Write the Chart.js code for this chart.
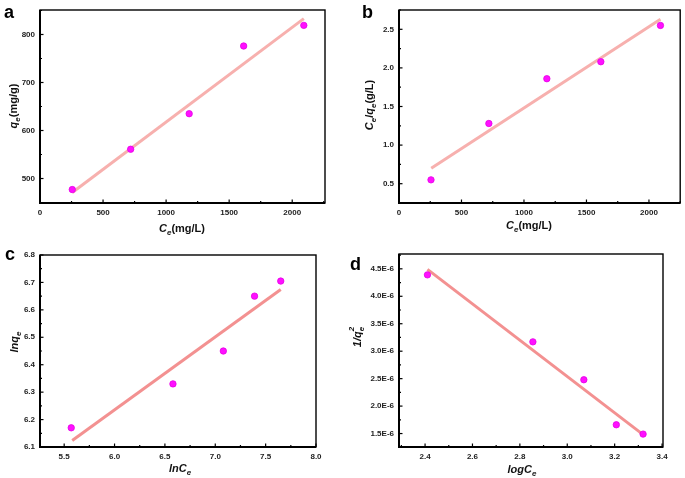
<!DOCTYPE html>
<html lang="en">
<head>
    <meta charset="UTF-8">
    <title>Isotherm Fits</title>
    <script src="https://cdn.jsdelivr.net/npm/chart.js"></script>
    <style>
        body { margin: 0; background: #fff; }
        canvas { position: absolute; }
    </style>
</head>
<body>
    <canvas id="chartA" width="340" height="240" style="left:0;top:0"></canvas>
    <canvas id="chartB" width="345" height="240" style="left:340px;top:0"></canvas>
    <canvas id="chartC" width="340" height="238" style="left:0;top:240px"></canvas>
    <canvas id="chartD" width="345" height="238" style="left:340px;top:240px"></canvas>

    <script>
        // measured points
        const ce = [256, 719, 1183, 1615, 2092];
        const qe = [477, 561, 635, 776, 819];
        const ceOverQe = [0.55, 1.28, 1.86, 2.08, 2.55];
        const lnCe = [5.57, 6.58, 7.08, 7.39, 7.65];
        const lnQe = [6.17, 6.33, 6.45, 6.65, 6.705];
        const logCe = [2.41, 2.855, 3.07, 3.207, 3.32];
        const invQe2 = [4.39e-6, 3.17e-6, 2.48e-6, 1.66e-6, 1.49e-6];

        // fitted line end points
        const fitAx = [256, 2092], fitAy = [471, 833];
        const fitBx = [258, 2092], fitBy = [0.70, 2.63];
        const fitCx = [5.58, 7.65], fitCy = [6.124, 6.674];
        const fitDx = [2.41, 3.32], fitDy = [4.49e-6, 1.48e-6];

        // tick labels
        const ticksAx = [0, 500, 1000, 1500, 2000];
        const ticksAy = [500, 600, 700, 800];
        const ticksBx = [0, 500, 1000, 1500, 2000];
        const ticksBy = [0.5, 1.0, 1.5, 2.0, 2.5];
        const ticksCx = [5.5, 6.0, 6.5, 7.0, 7.5, 8.0];
        const ticksCy = [6.1, 6.2, 6.3, 6.4, 6.5, 6.6, 6.7, 6.8];
        const ticksDx = [2.4, 2.6, 2.8, 3.0, 3.2, 3.4];
        const ticksDy = [1.5e-6, 2.0e-6, 2.5e-6, 3.0e-6, 3.5e-6, 4.0e-6, 4.5e-6];

        const FONT = '"Liberation Sans", Arial, sans-serif';

        function drawRich(ctx, segs, cx, cy, vertical) {
            const size = 11, small = 8;
            const fontOf = (s, sz) => (s.i ? 'italic ' : '') + 'bold ' + sz + 'px ' + FONT;
            let total = 0;
            const parts = segs.map(s => {
                const sz = s.sub || s.sup ? small : size;
                ctx.font = fontOf(s, sz);
                let w = ctx.measureText(s.t).width;
                if (s.over) {
                    ctx.font = fontOf(s, small);
                    w = Math.max(w, ctx.measureText(s.over).width);
                }
                total += w;
                return { s, sz, w };
            });
            ctx.save();
            ctx.translate(cx, cy);
            if (vertical) ctx.rotate(-Math.PI / 2);
            ctx.fillStyle = '#111';
            ctx.textBaseline = 'alphabetic';
            ctx.textAlign = 'left';
            let x = -total / 2;
            const base = 4;
            parts.forEach(p => {
                ctx.font = fontOf(p.s, p.sz);
                const dy = p.s.sub ? 3 : 0;
                ctx.fillText(p.s.t, x, base + dy);
                if (p.s.over) {
                    ctx.font = fontOf(p.s, small);
                    ctx.fillText(p.s.over, x, base - 7);
                }
                x += p.w;
            });
            ctx.restore();
        }

        const framePlugin = {
            id: 'frame',
            afterDraw(chart, args, o) {
                const { ctx, chartArea: a, scales } = chart;
                ctx.save();
                ctx.strokeStyle = '#000';
                ctx.lineWidth = 1.4;
                ctx.strokeRect(a.left, a.top, a.right - a.left, a.bottom - a.top);
                ctx.lineWidth = 2;
                ctx.beginPath();
                ctx.moveTo(a.left, a.top);
                ctx.lineTo(a.left, a.bottom);
                ctx.lineTo(a.right, a.bottom);
                ctx.stroke();

                // inward tick marks: major ones longer, minor ones in between
                ctx.lineWidth = 1.2;
                const sx = scales.x, sy = scales.y;
                const isMajor = (v, list, step) => list.some(t => Math.abs(t - v) < step * 0.01);
                for (let v = Math.ceil(sx.min / o.minorX - 1e-9) * o.minorX; v <= sx.max + o.minorX * 1e-6; v += o.minorX) {
                    const px = sx.getPixelForValue(v);
                    const len = isMajor(v, o.majX, o.minorX) ? 3.5 : 2;
                    ctx.beginPath();
                    ctx.moveTo(px, a.bottom);
                    ctx.lineTo(px, a.bottom - len);
                    ctx.stroke();
                }
                for (let v = Math.ceil(sy.min / o.minorY - 1e-9) * o.minorY; v <= sy.max + o.minorY * 1e-6; v += o.minorY) {
                    const py = sy.getPixelForValue(v);
                    const len = isMajor(v, o.majY, o.minorY) ? 3.5 : 2;
                    ctx.beginPath();
                    ctx.moveTo(a.left, py);
                    ctx.lineTo(a.left + len, py);
                    ctx.stroke();
                }

                // panel letter
                ctx.fillStyle = '#000';
                ctx.font = 'bold 18px ' + FONT;
                ctx.textAlign = 'left';
                ctx.textBaseline = 'alphabetic';
                ctx.fillText(o.letter[0], o.letter[1], o.letter[2]);
                ctx.restore();

                drawRich(ctx, o.xTitle, o.xPos[0], o.xPos[1], false);
                drawRich(ctx, o.yTitle, o.yPos[0], o.yPos[1], true);
            }
        };

        function toPts(xs, ys) {
            return xs.map((x, i) => ({ x: x, y: ys[i] }));
        }

        function makeChart(id, cfg) {
            const tickFont = { family: FONT, size: 8, weight: 'bold' };
            cfg.frame.majX = cfg.xTicks;
            cfg.frame.majY = cfg.yTicks;
            new Chart(document.getElementById(id), {
                type: 'scatter',
                data: {
                    datasets: [{
                        data: toPts(cfg.fitX, cfg.fitY),
                        showLine: true,
                        borderColor: cfg.lineColor,
                        borderWidth: 3,
                        pointRadius: 0,
                        order: 2
                    }, {
                        data: toPts(cfg.xs, cfg.ys),
                        backgroundColor: '#ff10ff',
                        borderColor: '#e600e6',
                        borderWidth: 0.8,
                        pointRadius: 3.2,
                        order: 1
                    }]
                },
                options: {
                    responsive: false,
                    animation: false,
                    layout: { padding: { left: 0, top: cfg.pad[0], right: cfg.pad[1], bottom: 0 } },
                    plugins: {
                        legend: { display: false },
                        tooltip: { enabled: false },
                        frame: cfg.frame
                    },
                    scales: {
                        x: {
                            type: 'linear',
                            min: cfg.xRange[0],
                            max: cfg.xRange[1],
                            grid: { display: false, drawTicks: false },
                            border: { display: false },
                            afterBuildTicks: s => { s.ticks = cfg.xTicks.map(v => ({ value: v })); },
                            afterFit: s => { s.height = cfg.xAxisH; },
                            ticks: {
                                font: tickFont,
                                color: '#222',
                                padding: 5,
                                maxRotation: 0,
                                autoSkip: false,
                                callback: cfg.xFmt
                            }
                        },
                        y: {
                            type: 'linear',
                            min: cfg.yRange[0],
                            max: cfg.yRange[1],
                            grid: { display: false, drawTicks: false },
                            border: { display: false },
                            afterBuildTicks: s => { s.ticks = cfg.yTicks.map(v => ({ value: v })); },
                            afterFit: s => { s.width = cfg.yAxisW; },
                            ticks: {
                                font: tickFont,
                                color: '#222',
                                padding: 5,
                                autoSkip: false,
                                callback: cfg.yFmt
                            }
                        }
                    }
                },
                plugins: [framePlugin]
            });
        }

        const fmt1 = v => v.toFixed(1);
        const fmt0 = v => String(v);

        makeChart('chartA', {
            xs: ce, ys: qe, fitX: fitAx, fitY: fitAy,
            xTicks: ticksAx, yTicks: ticksAy, xFmt: fmt0, yFmt: fmt0,
            xRange: [0, 2260], yRange: [449, 851],
            yAxisW: 40, xAxisH: 37, pad: [10, 15],
            lineColor: '#f7b0ae',
            frame: {
                letter: ['a', 4, 18], minorX: 250, minorY: 50,
                xTitle: [{ t: 'C', i: 1 }, { t: 'e', i: 1, sub: 1 }, { t: '(mg/L)' }], xPos: [182, 228],
                yTitle: [{ t: 'q', i: 1 }, { t: 'e', i: 1, sub: 1 }, { t: '(mg/g)' }], yPos: [13, 106]
            }
        });

        makeChart('chartB', {
            xs: ce, ys: ceOverQe, fitX: fitBx, fitY: fitBy,
            xTicks: ticksBx, yTicks: ticksBy, xFmt: fmt0, yFmt: fmt1,
            xRange: [0, 2250], yRange: [0.25, 2.75],
            yAxisW: 59, xAxisH: 37, pad: [10, 3],
            lineColor: '#f7b0ae',
            frame: {
                letter: ['b', 22, 18], minorX: 250, minorY: 0.25,
                xTitle: [{ t: 'C', i: 1 }, { t: 'e', i: 1, sub: 1 }, { t: '(mg/L)' }], xPos: [189, 225],
                yTitle: [{ t: 'C', i: 1 }, { t: 'e', i: 1, sub: 1 }, { t: '/' }, { t: 'q', i: 1 }, { t: 'e', i: 1, sub: 1 }, { t: '(g/L)' }], yPos: [29, 105]
            }
        });

        makeChart('chartC', {
            xs: lnCe, ys: lnQe, fitX: fitCx, fitY: fitCy,
            xTicks: ticksCx, yTicks: ticksCy, xFmt: fmt1, yFmt: fmt1,
            xRange: [5.26, 8.0], yRange: [6.1, 6.8],
            yAxisW: 40, xAxisH: 31, pad: [15, 24],
            lineColor: '#f39191',
            frame: {
                letter: ['c', 5, 20], minorX: 0.25, minorY: 0.05,
                xTitle: [{ t: 'lnC', i: 1 }, { t: 'e', i: 1, sub: 1 }], xPos: [180, 228],
                yTitle: [{ t: 'lnq', i: 1 }, { t: 'e', i: 1, sub: 1 }], yPos: [14, 102]
            }
        });

        makeChart('chartD', {
            xs: logCe, ys: invQe2, fitX: fitDx, fitY: fitDy,
            xTicks: ticksDx, yTicks: ticksDy, xFmt: fmt1,
            yFmt: v => (v * 1e6).toFixed(1) + 'E-6',
            xRange: [2.29, 3.404], yRange: [1.255e-6, 4.77e-6],
            yAxisW: 59, xAxisH: 31, pad: [14, 22],
            lineColor: '#f39191',
            frame: {
                letter: ['d', 10, 30], minorX: 0.1, minorY: 0.25e-6,
                xTitle: [{ t: 'logC', i: 1 }, { t: 'e', i: 1, sub: 1 }], xPos: [182, 229],
                yTitle: [{ t: '1/q', i: 1 }, { t: 'e', i: 1, sub: 1, over: '2' }], yPos: [17, 97]
            }
        });
    </script>
</body>
</html>
